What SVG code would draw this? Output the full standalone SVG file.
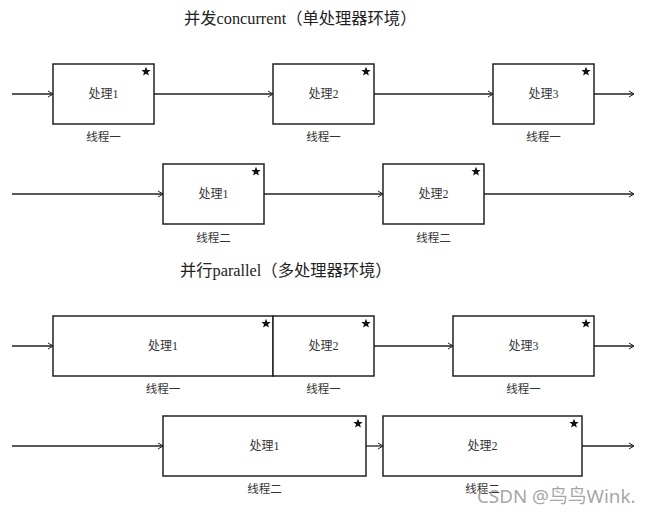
<svg xmlns="http://www.w3.org/2000/svg" xmlns:xlink="http://www.w3.org/1999/xlink" width="652" height="514" viewBox="0 0 652 514">
<style>
.box{fill:#fff;stroke:#222;stroke-width:1.5}
.ln{fill:none;stroke:#222;stroke-width:1.3;marker-end:url(#ah)}
.t{font-family:"Liberation Serif","Noto Sans CJK SC",serif;fill:#333;text-anchor:middle}
.p{font-size:12px}
.th{font-size:11.5px}
.title{font-family:"Liberation Serif","Noto Sans CJK SC",serif;font-size:16.3px;fill:#222}
.wm{font-family:"Noto Sans","Noto Sans CJK SC",sans-serif;font-size:18.8px;fill:#9a9a9a;fill-opacity:0.9}
</style>
<defs>
<marker id="ah" markerWidth="7" markerHeight="8" refX="6" refY="4" orient="auto" markerUnits="userSpaceOnUse">
<path d="M1,1 L6,4 L1,7" fill="none" stroke="#222" stroke-width="1"/>
</marker>
<polygon id="star" points="0,-4.8 1.3,-1.6 4.6,-1.5 2,0.7 2.9,4.1 0,2.3 -2.9,4.1 -2,0.7 -4.6,-1.5 -1.3,-1.6" fill="#111"/>
</defs>
<rect width="652" height="514" fill="#fff"/>

<text class="title" x="184" y="24">并发concurrent（单处理器环境）</text>
<text class="title" x="180" y="276">并行parallel（多处理器环境）</text>

<g id="connectors">
<line class="ln" x1="12" y1="94" x2="53" y2="94"/>
<line class="ln" x1="154" y1="94" x2="273" y2="94"/>
<line class="ln" x1="374" y1="94" x2="493" y2="94"/>
<line class="ln" x1="594" y1="94" x2="634" y2="94"/>
<line class="ln" x1="12" y1="194" x2="163" y2="194"/>
<line class="ln" x1="264" y1="194" x2="383" y2="194"/>
<line class="ln" x1="484" y1="194" x2="634" y2="194"/>
<line class="ln" x1="12" y1="346" x2="53" y2="346"/>
<line class="ln" x1="374" y1="346" x2="453" y2="346"/>
<line class="ln" x1="594" y1="346" x2="634" y2="346"/>
<line class="ln" x1="12" y1="446" x2="163" y2="446"/>
<line class="ln" x1="366" y1="446" x2="383" y2="446"/>
<line class="ln" x1="582" y1="446" x2="634" y2="446"/>
</g>

<g id="c-r1-p1"><rect class="box" x="53" y="64" width="101" height="60"/><use xlink:href="#star" x="146" y="71.5"/><text class="t p" x="103.5" y="98">处理1</text><text class="t th" x="103.5" y="141">线程一</text></g>
<g id="c-r1-p2"><rect class="box" x="273" y="64" width="101" height="60"/><use xlink:href="#star" x="366" y="71.5"/><text class="t p" x="323.5" y="98">处理2</text><text class="t th" x="323.5" y="141">线程一</text></g>
<g id="c-r1-p3"><rect class="box" x="493" y="64" width="101" height="60"/><use xlink:href="#star" x="586" y="71.5"/><text class="t p" x="543.5" y="98">处理3</text><text class="t th" x="543.5" y="141">线程一</text></g>

<g id="c-r2-p1"><rect class="box" x="163" y="164" width="101" height="60"/><use xlink:href="#star" x="256" y="171.5"/><text class="t p" x="213.5" y="198">处理1</text><text class="t th" x="213.5" y="242">线程二</text></g>
<g id="c-r2-p2"><rect class="box" x="383" y="164" width="101" height="60"/><use xlink:href="#star" x="476" y="171.5"/><text class="t p" x="433.5" y="198">处理2</text><text class="t th" x="433.5" y="242">线程二</text></g>

<g id="p-r3-p1"><rect class="box" x="53" y="316" width="220" height="60"/><use xlink:href="#star" x="266" y="323.5"/><text class="t p" x="163" y="350">处理1</text><text class="t th" x="163" y="393">线程一</text></g>
<g id="p-r3-p2"><rect class="box" x="273" y="316" width="101" height="60"/><use xlink:href="#star" x="366" y="323.5"/><text class="t p" x="323.5" y="350">处理2</text><text class="t th" x="323.5" y="393">线程一</text></g>
<g id="p-r3-p3"><rect class="box" x="453" y="316" width="141" height="60"/><use xlink:href="#star" x="586" y="323.5"/><text class="t p" x="523.5" y="350">处理3</text><text class="t th" x="523.5" y="393">线程一</text></g>

<g id="p-r4-p1"><rect class="box" x="163" y="416" width="203" height="60"/><use xlink:href="#star" x="358" y="423.5"/><text class="t p" x="264.5" y="450">处理1</text><text class="t th" x="264.5" y="493">线程二</text></g>
<g id="p-r4-p2"><rect class="box" x="383" y="416" width="199" height="60"/><use xlink:href="#star" x="574" y="423.5"/><text class="t p" x="482.5" y="450">处理2</text><text class="t th" x="482.5" y="493">线程二</text></g>

<text class="wm" x="477" y="503">CSDN @鸟鸟Wink.</text>
</svg>
